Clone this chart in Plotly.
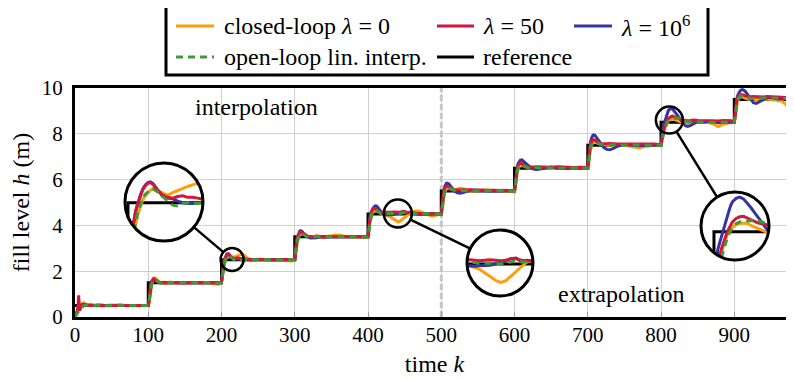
import math
import plotly.graph_objects as go

# ------------------------------------------------------------------ data
# time samples (shared by all measured series)
K = [
    0, 2, 4, 5, 6, 8, 10, 12, 15, 18, 22, 26, 30, 35, 40, 50, 60, 70, 80, 90, 96,
    100, 101, 102, 103, 104, 105, 106, 107, 108, 110, 112, 115, 118, 122, 126, 130, 135, 140, 150, 160, 170, 180, 190, 196,
    200, 201, 202, 203, 204, 205, 206, 207, 208, 209, 210, 212, 214, 216, 218, 220, 222, 224, 226, 228, 230, 233, 236, 240, 250, 260, 270, 280, 290, 296,
    300, 301, 302, 303, 304, 305, 306, 307, 308, 310, 312, 315, 318, 322, 326, 330, 335, 340, 350, 360, 370, 380, 390, 396,
    400, 401, 402, 403, 404, 405, 406, 407, 408, 410, 412, 414, 416, 418, 420, 423, 426, 429, 432, 435, 438, 441, 444, 447, 450, 453, 456, 459, 462, 466, 470, 475, 480, 487, 494,
    500, 501, 502, 503, 504, 505, 506, 507, 508, 510, 512, 515, 518, 522, 526, 530, 535, 540, 550, 560, 570, 580, 590, 596,
    600, 601, 602, 603, 604, 605, 606, 607, 608, 610, 612, 615, 618, 622, 626, 630, 635, 640, 650, 660, 670, 680, 690, 696,
    700, 701, 702, 703, 704, 705, 706, 707, 708, 710, 712, 715, 718, 722, 726, 730, 735, 740, 750, 760, 770, 780, 790, 796,
    800, 801, 802, 803, 804, 805, 806, 807, 808, 809, 810, 812, 814, 816, 818, 820, 822, 824, 826, 828, 830, 833, 836, 840, 845, 850, 860, 870, 878, 885, 896,
    900, 901, 902, 903, 904, 905, 906, 907, 908, 910, 912, 915, 918, 922, 926, 930, 935, 940, 945, 950, 955, 960, 965, 970, 975, 980, 985, 990,
]

# closed-loop lambda = 0
ORANGE = [
    0.0, 0.2, 0.35, 0.6, 0.35, 0.45, 0.58, 0.62, 0.55, 0.5, 0.56, 0.52, 0.47, 0.53, 0.5, 0.48, 0.52, 0.49, 0.51, 0.5, 0.49,
    0.52, 0.6, 0.85, 1.1, 1.3, 1.45, 1.58, 1.66, 1.71, 1.7, 1.62, 1.55, 1.5, 1.46, 1.5, 1.53, 1.5, 1.48, 1.5, 1.52, 1.49, 1.5, 1.45, 1.42,
    1.5, 1.65, 2.0, 2.2, 2.35, 2.45, 2.54, 2.59, 2.63, 2.66, 2.68, 2.65, 2.62, 2.6, 2.63, 2.66, 2.69, 2.71, 2.73, 2.75, 2.72, 2.64, 2.56, 2.52, 2.48, 2.51, 2.49, 2.5, 2.47, 2.45,
    2.5, 2.65, 3.0, 3.2, 3.35, 3.45, 3.54, 3.6, 3.64, 3.66, 3.62, 3.55, 3.5, 3.48, 3.52, 3.55, 3.53, 3.5, 3.55, 3.58, 3.52, 3.48, 3.5, 3.47,
    3.5, 3.65, 4.0, 4.22, 4.37, 4.47, 4.55, 4.61, 4.65, 4.67, 4.63, 4.57, 4.52, 4.49, 4.47, 4.46, 4.44, 4.4, 4.34, 4.27, 4.2, 4.16, 4.19, 4.27, 4.36, 4.45, 4.53, 4.57, 4.6, 4.63, 4.62, 4.55, 4.47, 4.4, 4.45,
    4.5, 4.65, 5.0, 5.22, 5.38, 5.48, 5.56, 5.6, 5.63, 5.64, 5.6, 5.55, 5.56, 5.6, 5.62, 5.6, 5.55, 5.5, 5.52, 5.55, 5.52, 5.5, 5.48, 5.46,
    5.46, 5.6, 5.98, 6.2, 6.36, 6.46, 6.55, 6.6, 6.63, 6.64, 6.6, 6.55, 6.52, 6.5, 6.52, 6.5, 6.47, 6.5, 6.48, 6.5, 6.52, 6.48, 6.5, 6.48,
    6.48, 6.62, 6.98, 7.2, 7.36, 7.46, 7.55, 7.6, 7.63, 7.64, 7.6, 7.56, 7.53, 7.52, 7.5, 7.52, 7.5, 7.48, 7.5, 7.45, 7.38, 7.45, 7.5, 7.48,
    7.5, 7.65, 7.9, 8.02, 8.14, 8.25, 8.35, 8.43, 8.5, 8.55, 8.58, 8.62, 8.64, 8.65, 8.64, 8.61, 8.58, 8.55, 8.53, 8.5, 8.49, 8.47, 8.46, 8.45, 8.47, 8.5, 8.52, 8.45, 8.32, 8.42, 8.5,
    8.5, 8.65, 9.0, 9.22, 9.38, 9.47, 9.54, 9.58, 9.6, 9.62, 9.6, 9.55, 9.52, 9.5, 9.52, 9.5, 9.48, 9.5, 9.52, 9.5, 9.48, 9.47, 9.42, 9.3, 9.08, 8.75, 8.62, 8.6,
]

# lambda = 50
RED = [
    0.0, 0.15, 0.35, 0.95, 0.3, 0.45, 0.55, 0.52, 0.49, 0.52, 0.5, 0.49, 0.52, 0.5, 0.5, 0.51, 0.49, 0.5, 0.5, 0.51, 0.5,
    0.5, 0.68, 1.1, 1.35, 1.5, 1.58, 1.63, 1.66, 1.65, 1.6, 1.55, 1.52, 1.5, 1.52, 1.49, 1.51, 1.5, 1.52, 1.49, 1.5, 1.51, 1.5, 1.5, 1.48,
    1.52, 1.82, 2.2, 2.38, 2.5, 2.58, 2.67, 2.72, 2.75, 2.76, 2.74, 2.66, 2.6, 2.57, 2.56, 2.58, 2.59, 2.57, 2.57, 2.56, 2.55, 2.53, 2.5, 2.49, 2.52, 2.5, 2.49, 2.51, 2.5, 2.49,
    2.5, 2.8, 3.2, 3.4, 3.52, 3.6, 3.66, 3.7, 3.72, 3.7, 3.64, 3.56, 3.52, 3.5, 3.49, 3.52, 3.5, 3.48, 3.51, 3.5, 3.52, 3.49, 3.5, 3.5,
    3.5, 3.82, 4.2, 4.42, 4.55, 4.63, 4.7, 4.73, 4.75, 4.74, 4.68, 4.62, 4.58, 4.57, 4.58, 4.58, 4.57, 4.56, 4.57, 4.58, 4.57, 4.56, 4.57, 4.6, 4.6, 4.57, 4.56, 4.56, 4.55, 4.53, 4.52, 4.5, 4.5, 4.51, 4.5,
    4.5, 4.82, 5.2, 5.42, 5.56, 5.64, 5.69, 5.71, 5.72, 5.69, 5.64, 5.58, 5.55, 5.54, 5.55, 5.56, 5.55, 5.54, 5.55, 5.53, 5.54, 5.52, 5.53, 5.52,
    5.52, 5.82, 6.2, 6.42, 6.56, 6.64, 6.69, 6.72, 6.73, 6.7, 6.65, 6.58, 6.55, 6.54, 6.55, 6.56, 6.55, 6.53, 6.54, 6.56, 6.54, 6.53, 6.54, 6.53,
    6.53, 6.85, 7.22, 7.45, 7.58, 7.66, 7.71, 7.73, 7.74, 7.72, 7.66, 7.6, 7.57, 7.56, 7.57, 7.58, 7.56, 7.55, 7.56, 7.57, 7.55, 7.56, 7.55, 7.55,
    7.52, 7.7, 7.95, 8.08, 8.2, 8.3, 8.4, 8.48, 8.55, 8.62, 8.67, 8.73, 8.76, 8.77, 8.74, 8.7, 8.67, 8.65, 8.64, 8.62, 8.6, 8.58, 8.57, 8.58, 8.6, 8.58, 8.56, 8.57, 8.56, 8.58, 8.57,
    8.52, 8.82, 9.2, 9.42, 9.55, 9.62, 9.67, 9.7, 9.72, 9.72, 9.7, 9.66, 9.63, 9.62, 9.63, 9.62, 9.6, 9.61, 9.63, 9.62, 9.6, 9.6, 9.61, 9.6, 9.58, 9.57, 9.56, 9.55,
]

# lambda = 10^6
BLUE = [
    0.0, 0.12, 0.3, 0.7, 0.28, 0.42, 0.52, 0.55, 0.51, 0.5, 0.5, 0.51, 0.5, 0.49, 0.5, 0.5, 0.5, 0.5, 0.5, 0.5, 0.5,
    0.5, 0.65, 1.05, 1.32, 1.48, 1.57, 1.63, 1.66, 1.66, 1.6, 1.54, 1.5, 1.49, 1.5, 1.5, 1.5, 1.49, 1.5, 1.5, 1.5, 1.5, 1.5, 1.49, 1.5,
    1.5, 1.8, 2.18, 2.38, 2.5, 2.6, 2.68, 2.73, 2.76, 2.77, 2.75, 2.66, 2.58, 2.56, 2.55, 2.52, 2.5, 2.49, 2.49, 2.5, 2.5, 2.51, 2.5, 2.5, 2.49, 2.5, 2.5, 2.51, 2.5, 2.5,
    2.5, 2.8, 3.18, 3.4, 3.53, 3.63, 3.7, 3.75, 3.77, 3.74, 3.65, 3.55, 3.48, 3.45, 3.44, 3.46, 3.5, 3.52, 3.5, 3.49, 3.5, 3.5, 3.5, 3.5,
    3.5, 3.8, 4.2, 4.42, 4.55, 4.64, 4.71, 4.76, 4.8, 4.85, 4.84, 4.76, 4.66, 4.57, 4.51, 4.47, 4.46, 4.47, 4.47, 4.48, 4.5, 4.52, 4.56, 4.6, 4.61, 4.55, 4.57, 4.55, 4.52, 4.5, 4.49, 4.5, 4.51, 4.5, 4.5,
    4.5, 4.8, 5.18, 5.42, 5.6, 5.72, 5.8, 5.84, 5.85, 5.82, 5.74, 5.62, 5.5, 5.42, 5.4, 5.43, 5.5, 5.55, 5.53, 5.5, 5.5, 5.51, 5.5, 5.5,
    5.5, 5.8, 6.18, 6.42, 6.6, 6.71, 6.78, 6.83, 6.85, 6.86, 6.8, 6.72, 6.62, 6.52, 6.46, 6.44, 6.46, 6.5, 6.55, 6.5, 6.48, 6.51, 6.5, 6.5,
    6.5, 6.82, 7.22, 7.48, 7.67, 7.8, 7.88, 7.93, 7.95, 7.93, 7.83, 7.7, 7.55, 7.4, 7.32, 7.3, 7.36, 7.45, 7.53, 7.5, 7.48, 7.5, 7.5, 7.5,
    7.5, 7.8, 8.18, 8.3, 8.42, 8.53, 8.64, 8.75, 8.85, 8.95, 9.02, 9.08, 9.1, 9.07, 9.0, 8.92, 8.83, 8.74, 8.65, 8.56, 8.46, 8.36, 8.32, 8.36, 8.45, 8.52, 8.55, 8.52, 8.5, 8.5, 8.5,
    8.5, 8.8, 9.2, 9.45, 9.6, 9.7, 9.78, 9.85, 9.88, 9.92, 9.92, 9.85, 9.7, 9.5, 9.36, 9.33, 9.42, 9.52, 9.58, 9.58, 9.55, 9.52, 9.53, 9.55, 9.54, 9.5, 9.45, 9.4,
]

# open-loop linear interpolation
GREEN = [
    0.0, 0.08, 0.2, 0.25, 0.3, 0.38, 0.45, 0.5, 0.52, 0.51, 0.49, 0.5, 0.51, 0.5, 0.49, 0.5, 0.51, 0.5, 0.49, 0.5, 0.5,
    0.5, 0.6, 0.9, 1.15, 1.32, 1.45, 1.54, 1.6, 1.63, 1.62, 1.56, 1.51, 1.48, 1.5, 1.52, 1.5, 1.49, 1.51, 1.5, 1.49, 1.5, 1.51, 1.48, 1.47,
    1.52, 1.7, 2.05, 2.25, 2.38, 2.48, 2.56, 2.61, 2.64, 2.67, 2.68, 2.64, 2.58, 2.52, 2.47, 2.46, 2.49, 2.5, 2.49, 2.49, 2.5, 2.51, 2.5, 2.49, 2.5, 2.51, 2.5, 2.49, 2.5, 2.5,
    2.5, 2.7, 3.05, 3.25, 3.38, 3.48, 3.56, 3.61, 3.64, 3.65, 3.6, 3.52, 3.47, 3.46, 3.49, 3.51, 3.5, 3.49, 3.51, 3.5, 3.49, 3.5, 3.5, 3.49,
    3.5, 3.7, 4.05, 4.27, 4.4, 4.5, 4.58, 4.63, 4.66, 4.68, 4.64, 4.58, 4.54, 4.52, 4.52, 4.52, 4.53, 4.51, 4.52, 4.52, 4.51, 4.5, 4.52, 4.54, 4.56, 4.54, 4.53, 4.52, 4.51, 4.5, 4.5, 4.51, 4.5, 4.49, 4.5,
    4.5, 4.7, 5.05, 5.27, 5.4, 5.5, 5.57, 5.62, 5.64, 5.65, 5.62, 5.57, 5.53, 5.51, 5.52, 5.53, 5.52, 5.51, 5.52, 5.5, 5.51, 5.52, 5.5, 5.5,
    5.5, 5.7, 6.05, 6.27, 6.4, 6.5, 6.57, 6.62, 6.64, 6.65, 6.62, 6.57, 6.53, 6.51, 6.52, 6.53, 6.5, 6.51, 6.52, 6.5, 6.51, 6.5, 6.51, 6.5,
    6.5, 6.7, 7.05, 7.27, 7.4, 7.5, 7.57, 7.62, 7.64, 7.65, 7.62, 7.57, 7.54, 7.52, 7.52, 7.53, 7.52, 7.51, 7.52, 7.51, 7.5, 7.51, 7.52, 7.5,
    7.5, 7.62, 7.85, 7.95, 8.05, 8.17, 8.28, 8.37, 8.45, 8.52, 8.57, 8.64, 8.67, 8.68, 8.69, 8.69, 8.69, 8.69, 8.67, 8.64, 8.61, 8.57, 8.54, 8.52, 8.53, 8.52, 8.5, 8.51, 8.52, 8.5, 8.51,
    8.51, 8.7, 9.05, 9.27, 9.4, 9.5, 9.57, 9.62, 9.64, 9.65, 9.63, 9.58, 9.55, 9.54, 9.55, 9.56, 9.55, 9.56, 9.57, 9.56, 9.55, 9.56, 9.55, 9.54, 9.55, 9.54, 9.53, 9.52,
]

# reference (step signal)
REF_K = [0, 100, 200, 300, 400, 500, 600, 700, 800, 900, 1000]
REF_H = [0.5, 1.5, 2.5, 3.5, 4.5, 5.5, 6.5, 7.5, 8.5, 9.5, 9.5]

X_TICKS = [0, 100, 200, 300, 400, 500, 600, 700, 800, 900]
Y_TICKS = [0, 2, 4, 6, 8, 10]
SPLIT_K = 500

NAMES = ["closed-loop <i>λ</i> = 0", "<i>λ</i> = 50", "<i>λ</i> = 10<sup>6</sup>",
         "open-loop lin. interp.", "reference"]

for s in (ORANGE, RED, BLUE, GREEN):
    assert len(s) == len(K), (len(s), len(K))

# ------------------------------------------------------------------ style / layout
FONT = "Liberation Serif, Times New Roman, Times, serif"
C_OR, C_RED, C_BLUE, C_GREEN = "#FF9E0C", "#D6153B", "#3434A2", "#3E9A36"
GRID = "#cfcfcf"
LW = 3

# page coordinates (the html body has an 8px margin)
OFF = 8
PAGE_W, PAGE_H = 794, 380
PX0, PY0, PW, PH = 75, 88, 719, 229      # plot area on the page
FIG_W, FIG_H = PAGE_W - OFF, PAGE_H - OFF
ML, MT = PX0 - OFF, PY0 - OFF
X_MAX = 981.5
SX = PW / X_MAX
SY = PH / 10.0


def k2px(k):
    return PX0 + k * SX


def h2py(h):
    return PY0 + PH - h * SY


def pxp(px):
    return (px - PX0) / PW


def pyp(py):
    return (PY0 + PH - py) / PH


# zoom insets: data centre, small radius (px), big circle centre/radius (page px)
INSETS = [
    dict(kc=214.5, hc=2.51, r=11.5, bx=164, by=202, R=39),
    dict(kc=440.7, hc=4.52, r=14.0, bx=500, by=263, R=33),
    dict(kc=811.4, hc=8.60, r=13.5, bx=735, by=226, R=34),
]

SERIES = [
    (ORANGE, C_OR, "solid"),
    (BLUE, C_BLUE, "solid"),
    (RED, C_RED, "solid"),
    (GREEN, C_GREEN, "7px,5px"),
]

fig = go.Figure()


def add_all(xa, ya):
    fig.add_trace(go.Scatter(x=REF_K, y=REF_H, mode="lines", xaxis=xa, yaxis=ya,
                             line=dict(color="black", width=LW, shape="hv"),
                             showlegend=False, hoverinfo="skip"))
    for vals, col, dash in SERIES:
        fig.add_trace(go.Scatter(x=K, y=vals, mode="lines", xaxis=xa, yaxis=ya,
                                 line=dict(color=col, width=LW, dash=dash),
                                 showlegend=False, hoverinfo="skip"))


add_all("x", "y")
for i in range(len(INSETS)):
    add_all("x%d" % (i + 2), "y%d" % (i + 2))

shapes = []
annotations = []

# interpolation / extrapolation divider
shapes.append(dict(type="line", xref="x", yref="y", x0=SPLIT_K, x1=SPLIT_K, y0=0, y1=10,
                   line=dict(color="#c6c6c6", width=3, dash="6px,3px"), layer="between"))

axes_layout = {}
for i, ins in enumerate(INSETS):
    n = i + 2
    dk = ins["r"] / SX
    dh = ins["r"] / SY
    xr = [ins["kc"] - dk, ins["kc"] + dk]
    yr = [ins["hc"] - dh, ins["hc"] + dh]
    bx, by, R = ins["bx"], ins["by"], ins["R"]
    axes_layout["xaxis%d" % n] = dict(domain=[pxp(bx - R), pxp(bx + R)], range=xr,
                                      anchor="y%d" % n, visible=False, fixedrange=True)
    axes_layout["yaxis%d" % n] = dict(domain=[pyp(by + R), pyp(by - R)], range=yr,
                                      anchor="x%d" % n, visible=False, fixedrange=True)
    shapes.append(dict(type="circle", xref="x%d" % n, yref="y%d" % n,
                       x0=xr[0], x1=xr[1], y0=yr[0], y1=yr[1],
                       fillcolor="white", line=dict(width=0), layer="below"))

pad = 3
for ins in INSETS:
    bx, by, R = ins["bx"], ins["by"], ins["R"]
    x0, x1 = pxp(bx - R - pad), pxp(bx + R + pad)
    y0, y1 = pyp(by + R + pad), pyp(by - R - pad)
    path = "M%.5f,%.5f L%.5f,%.5f L%.5f,%.5f L%.5f,%.5f Z " % (x0, y0, x1, y0, x1, y1, x0, y1)
    pts = []
    for j in range(120):
        t = 2 * math.pi * j / 120
        pts.append("%.5f,%.5f" % (pxp(bx + R * math.cos(t)), pyp(by + R * math.sin(t))))
    path += "M" + " L".join(pts) + " Z"
    shapes.append(dict(type="path", xref="paper", yref="paper", path=path,
                       fillcolor="white", fillrule="evenodd", line=dict(width=0), layer="above"))
    for k in X_TICKS[1:]:
        dx = k2px(k) - bx
        if abs(dx) >= R + pad:
            continue
        half = math.sqrt(R * R - dx * dx) if abs(dx) < R else 0.0
        for ya, yb in ((by - R - pad, by - half), (by + half, by + R + pad)):
            shapes.append(dict(type="line", xref="x", yref="paper", x0=k, x1=k,
                               y0=pyp(ya), y1=pyp(yb), line=dict(color=GRID, width=1), layer="above"))
    for h in Y_TICKS[1:-1]:
        dy = h2py(h) - by
        if abs(dy) >= R + pad:
            continue
        half = math.sqrt(R * R - dy * dy) if abs(dy) < R else 0.0
        for xa_, xb_ in ((bx - R - pad, bx - half), (bx + half, bx + R + pad)):
            shapes.append(dict(type="line", xref="paper", yref="y", x0=pxp(xa_), x1=pxp(xb_),
                               y0=h, y1=h, line=dict(color=GRID, width=1), layer="above"))

for ins in INSETS:
    bx, by, R, r = ins["bx"], ins["by"], ins["R"], ins["r"]
    dk = r / SX
    dh = r / SY
    shapes.append(dict(type="circle", xref="x", yref="y",
                       x0=ins["kc"] - dk, x1=ins["kc"] + dk, y0=ins["hc"] - dh, y1=ins["hc"] + dh,
                       line=dict(color="black", width=2.5), layer="above"))
    shapes.append(dict(type="circle", xref="paper", yref="paper",
                       x0=pxp(bx - R), x1=pxp(bx + R), y0=pyp(by + R), y1=pyp(by - R),
                       line=dict(color="black", width=3), layer="above"))
    sx_, sy_ = k2px(ins["kc"]), h2py(ins["hc"])
    vx, vy = bx - sx_, by - sy_
    d = math.hypot(vx, vy)
    ux, uy = vx / d, vy / d
    shapes.append(dict(type="line", xref="paper", yref="paper",
                       x0=pxp(sx_ + r * ux), y0=pyp(sy_ + r * uy),
                       x1=pxp(bx - R * ux), y1=pyp(by - R * uy),
                       line=dict(color="black", width=2.5), layer="above"))

TXT = dict(family=FONT, size=24, color="black")
annotations.append(dict(text="interpolation", xref="paper", yref="paper", x=pxp(257), y=pyp(107),
                        xanchor="center", yanchor="middle", showarrow=False, font=TXT))
annotations.append(dict(text="extrapolation", xref="paper", yref="paper", x=pxp(621), y=pyp(294),
                        xanchor="center", yanchor="middle", showarrow=False, font=TXT))

# legend (3-column box above the axes)
LEG_BOX = (166, 4, 708, 75)
shapes.append(dict(type="rect", xref="paper", yref="paper",
                   x0=pxp(LEG_BOX[0]), x1=pxp(LEG_BOX[2]), y0=pyp(LEG_BOX[3]), y1=pyp(LEG_BOX[1]),
                   line=dict(color="black", width=3), fillcolor="white", layer="above"))
ROW_Y = [26, 57]
COL_X = [(176, 214, 222), (437, 474, 481), (574, 612, 619)]
LEG_ITEMS = [
    (0, 0, C_OR, "solid"), (0, 1, C_RED, "solid"), (0, 2, C_BLUE, "solid"),
    (1, 0, C_GREEN, "7px,5px"), (1, 1, "black", "solid"),
]
for idx, (row, col, colr, dash) in enumerate(LEG_ITEMS):
    a, b, t = COL_X[col]
    yy = pyp(ROW_Y[row])
    shapes.append(dict(type="line", xref="paper", yref="paper", x0=pxp(a), x1=pxp(b), y0=yy, y1=yy,
                       line=dict(color=colr, width=LW, dash=dash), layer="above"))
    annotations.append(dict(text=NAMES[idx], xref="paper", yref="paper", x=pxp(t), y=yy,
                            xanchor="left", yanchor="middle", showarrow=False, font=TXT))

fig.update_layout(
    template="none",
    width=FIG_W, height=FIG_H,
    margin=dict(l=ML, r=FIG_W - ML - PW, t=MT, b=FIG_H - MT - PH, pad=0),
    paper_bgcolor="white", plot_bgcolor="rgba(0,0,0,0)",
    font=dict(family=FONT, size=21, color="black"),
    showlegend=False,
    xaxis=dict(range=[0, X_MAX], tickvals=X_TICKS, showgrid=True, gridcolor=GRID, gridwidth=1,
               zeroline=False, showline=True, linecolor="black", linewidth=3, mirror=True,
               ticks="inside", ticklen=5, tickcolor="#9a9a9a", tickwidth=1,
               tickfont=dict(family=FONT, size=21, color="black"), ticklabelstandoff=-3,
               automargin=False, fixedrange=True,
               title=dict(text="time <i>k</i>", font=TXT, standoff=9)),
    yaxis=dict(range=[0, 10], tickvals=Y_TICKS, showgrid=True, gridcolor=GRID, gridwidth=1,
               zeroline=False, showline=True, linecolor="black", linewidth=3, mirror=False,
               ticks="", tickfont=dict(family=FONT, size=21, color="black"), ticklabelstandoff=5,
               automargin=False, fixedrange=True,
               title=dict(text="fill level <i>h</i> (m)", font=TXT, standoff=8)),
    shapes=shapes,
    annotations=annotations,
    **axes_layout,
)

fig.write_html("out.html")
